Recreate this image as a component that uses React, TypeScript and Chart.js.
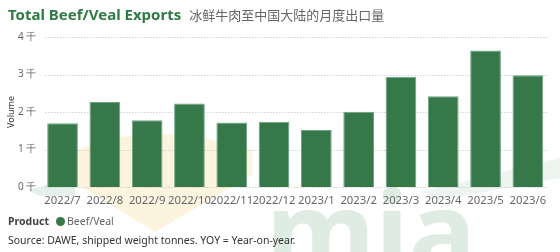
import React, { useEffect, useRef } from "react";
import { Chart, registerables } from "chart.js";

Chart.register(...registerables);

const categories = [
  "2022/7", "2022/8", "2022/9", "2022/10", "2022/11", "2022/12",
  "2023/1", "2023/2", "2023/3", "2023/4", "2023/5", "2023/6",
];
const beefVeal = [1700, 2270, 1780, 2230, 1720, 1740, 1520, 2010, 2940, 2420, 3640, 2980];
const yTicks = [0, 1000, 2000, 3000, 4000];
const seriesName = "Beef/Veal";
const titleText = "Total Beef/Veal Exports";
const subtitleText = "冰鲜牛肉至中国大陆的月度出口量";
const sourceText = "Source: DAWE, shipped weight tonnes. YOY = Year-on-year.";

const GREEN = "#37784a";
const FONT = "'Noto Sans', 'Open Sans', sans-serif";

const dottedGrid = {
  id: "dottedGrid",
  beforeDatasetsDraw: (c: any) => {
    const { ctx, chartArea, scales } = c;
    const y = scales.y;
    ctx.save();
    ctx.strokeStyle = "#bdbdbd";
    ctx.lineWidth = 1;
    ctx.setLineDash([1, 2]);
    yTicks.forEach((v) => {
      const py = Math.round(y.getPixelForValue(v)) + 0.5;
      ctx.beginPath();
      ctx.moveTo(chartArea.left + 4, py);
      ctx.lineTo(chartArea.right, py);
      ctx.stroke();
    });
    ctx.restore();
  },
};

export default function App() {
  const ref = useRef<HTMLCanvasElement | null>(null);

  useEffect(() => {
    if (!ref.current) return;
    const chart = new Chart(ref.current, {
      type: "bar",
      data: {
        labels: categories,
        datasets: [
          {
            label: seriesName,
            data: beefVeal,
            backgroundColor: GREEN,
            borderColor: "#6ea383",
            borderWidth: 1,
            barPercentage: 0.726,
            categoryPercentage: 1,
          },
        ],
      },
      options: {
        animation: false,
        responsive: false,
        maintainAspectRatio: false,
        layout: { padding: { top: 37, right: 11, left: 0, bottom: 0 } },
        plugins: { legend: { display: false }, tooltip: { enabled: false } },
        scales: {
          x: {
            grid: { display: false, drawTicks: false },
            border: { display: false },
            ticks: {
              autoSkip: false,
              maxRotation: 0,
              minRotation: 0,
              padding: 7,
              color: "#666",
              font: { family: FONT, size: 11.3 },
            },
            afterFit: (s: any) => {
              s.height = 65;
            },
          },
          y: {
            min: 0,
            max: 4000,
            afterBuildTicks: (s: any) => {
              s.ticks = yTicks.map((v) => ({ value: v }));
            },
            grid: { display: false, drawTicks: false },
            border: { display: false },
            ticks: {
              padding: 5,
              color: "#666",
              font: { family: FONT, size: 10 },
              callback: (v: any) => `${Number(v) / 1000} 千`,
            },
            title: {
              display: true,
              text: "Volume",
              color: "#333",
              font: { family: FONT, size: 9 },
              padding: { top: 6, bottom: 0 },
            },
            afterFit: (s: any) => {
              s.width = 41.4;
            },
          },
        },
      },
      plugins: [dottedGrid],
    });
    return () => chart.destroy();
  }, []);

  return (
    <div
      style={{
        position: "fixed",
        left: 0,
        top: 0,
        width: 560,
        height: 252,
        overflow: "hidden",
        background: "#fff",
        fontFamily: FONT,
      }}
    >
      <svg
        width={560}
        height={252}
        style={{ position: "absolute", left: 0, top: 0 }}
      >
        <path
          d="M78 150 Q150 118 252 150 L252 175 L155 232 L78 185 Z"
          fill="#fdf4df"
        />
        <path d="M28 190 L75 178 L75 196 L40 196 Z" fill="#e6f0ea" />
        <path d="M420 192 L560 158 L560 178 L440 200 Z" fill="#eef5f0" />
        <text
          x={266}
          y={272}
          fill="#dfece4"
          fontFamily="'Noto Sans', sans-serif"
          fontWeight={700}
          fontSize={112}
        >
          mia
        </text>
      </svg>
      <canvas
        ref={ref}
        width={560}
        height={252}
        style={{ position: "absolute", left: 0, top: 0 }}
      />
      <div
        style={{
          position: "absolute",
          left: 8,
          top: 4,
          whiteSpace: "nowrap",
          display: "flex",
          alignItems: "baseline",
        }}
      >
        <span
          style={{
            color: "#2f7a45",
            fontWeight: 700,
            fontSize: 15,
          }}
        >
          {titleText}
        </span>
        <span
          style={{
            color: "#666",
            fontSize: 13,
            marginLeft: 8,
            fontFamily: "'Noto Sans CJK SC', sans-serif",
          }}
        >
          {subtitleText}
        </span>
      </div>
      <div
        style={{
          position: "absolute",
          left: 8,
          top: 214,
          display: "flex",
          alignItems: "center",
          fontSize: 10.5,
          whiteSpace: "nowrap",
        }}
      >
        <span style={{ fontWeight: 700, color: "#444" }}>Product</span>
        <span
          style={{
            display: "inline-block",
            width: 9,
            height: 9,
            borderRadius: "50%",
            background: GREEN,
            marginLeft: 7,
            marginRight: 2,
          }}
        />
        <span style={{ color: "#666" }}>{seriesName}</span>
      </div>
      <div
        style={{
          position: "absolute",
          left: 8,
          top: 233,
          fontSize: 10.5,
          color: "#333",
          whiteSpace: "nowrap",
        }}
      >
        {sourceText}
      </div>
    </div>
  );
}
